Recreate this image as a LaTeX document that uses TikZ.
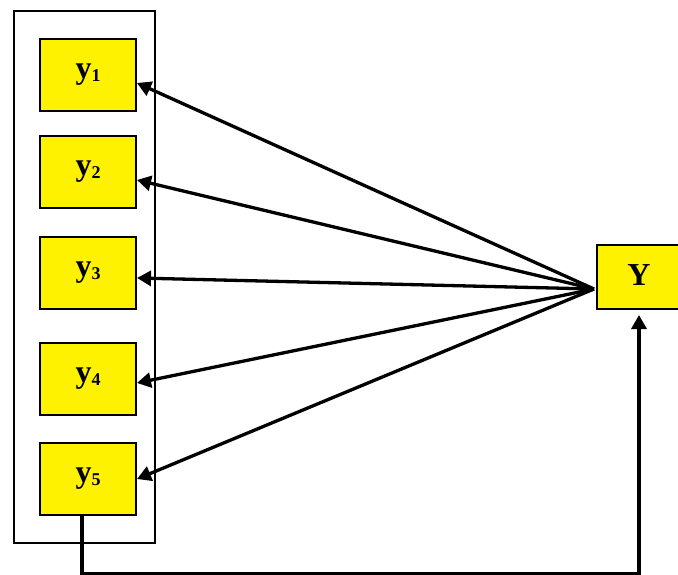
\documentclass[tikz,border=0pt]{standalone}
\usepackage{fontspec}
\setmainfont{Liberation Serif}
\usetikzlibrary{arrows.meta,calc}
\newcommand{\ysub}[1]{\raisebox{-3pt}{\fontsize{18}{18}\selectfont #1}}
\tikzset{
  varbox/.style={draw=black, line width=2pt, fill=yellow, minimum width=96pt,
    minimum height=72pt, inner sep=0pt, font=\bfseries\fontsize{32}{36}\selectfont},
  groupframe/.style={draw=black, line width=1.3pt, inner sep=0pt},
  link/.style={line width=3.3pt, -{Triangle[length=14pt,width=15pt]}},
}
\begin{document}
\begin{tikzpicture}[x=1pt,y=-1pt]
\useasboundingbox (0,0) rectangle (678,575);
\clip (0,0) rectangle (678,575);
\node[groupframe, minimum width=141pt, minimum height=532pt] (group) at (84.5,277) {};
\node[varbox] (y1) at (88,75) {y\ysub{1}};
\node[varbox] (y2) at (88,172) {y\ysub{2}};
\node[varbox] (y3) at (88,273) {y\ysub{3}};
\node[varbox] (y4) at (88,379) {y\ysub{4}};
\node[varbox] (y5) at (88,479) {y\ysub{5}};
\node[varbox, minimum width=84pt, minimum height=64pt] (Y) at (639,277) {\raisebox{3pt}{Y}};
\coordinate (src) at (594,289);
\draw[link] (src) -- ([yshift=-8pt]y1.east);
\draw[link] (src) -- ([yshift=-8pt]y2.east);
\draw[link] (src) -- ([yshift=-5pt]y3.east);
\draw[link] (src) -- ([yshift=-4pt]y4.east);
\draw[link] (src) -- (y5.east);
\draw[link] ([xshift=-6pt]y5.south) -- ++(0,58) -| ([yshift=-5pt]Y.south);
\end{tikzpicture}
\end{document}
